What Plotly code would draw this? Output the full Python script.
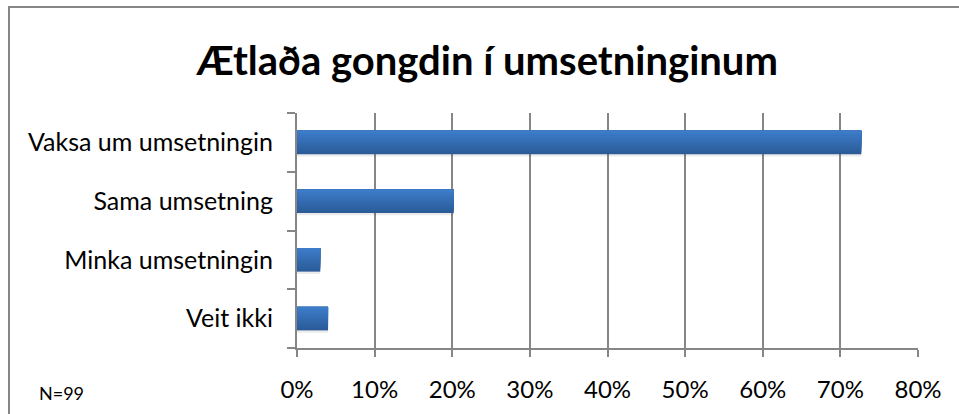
import plotly.graph_objects as go

categories = ["Vaksa um umsetningin", "Sama umsetning", "Minka umsetningin", "Veit ikki"]
shares = [0.727, 0.202, 0.030, 0.040]
x_ticks = [0, 0.1, 0.2, 0.3, 0.4, 0.5, 0.6, 0.7, 0.8]
title_text = "Ætlaða gongdin í umsetninginum"
note_text = "N=99"

grey = "#868686"
font_family = "Lato"

fig = go.Figure()

# soft shadow under each bar
fig.add_trace(go.Bar(y=categories, x=shares, orientation="h",
                     width=0.05, offset=-0.24,
                     marker=dict(color="rgba(0,0,0,0.08)", line=dict(width=0)),
                     hoverinfo="skip"))

# bar body: stacked overlays, each one covering from its start to the top,
# so the colour steps from dark (bottom) to light (top) without seams
top_rgb = (0x3d, 0x7c, 0xc9)
bot_rgb = (0x2b, 0x5c, 0x99)
n_strips = 10
bar_w = 0.4
step = bar_w / n_strips
for i in range(n_strips):
    t = i / (n_strips - 1)
    c = tuple(round(b + (a - b) * t) for a, b in zip(top_rgb, bot_rgb))
    fig.add_trace(go.Bar(
        y=categories, x=shares, orientation="h",
        width=bar_w - i * step, offset=-bar_w / 2 + i * step,
        marker=dict(color="rgb(%d,%d,%d)" % c, line=dict(width=0)),
    ))

fig.update_layout(
    width=959, height=414,
    margin=dict(l=297, r=41, t=113, b=66),
    paper_bgcolor="white", plot_bgcolor="white",
    font=dict(family=font_family, color="black"),
    showlegend=False,
    barmode="overlay",
    title=dict(text="<b>" + title_text + "</b>", x=0.508, xanchor="center",
               xref="container", yref="container", y=0.852, yanchor="middle",
               font=dict(size=40, family=font_family, color="black")),
)

fig.update_xaxes(
    range=[0, 0.8], tickvals=x_ticks, tickformat=".0%",
    showgrid=True, gridcolor=grey, gridwidth=1.5,
    showline=True, linecolor=grey, linewidth=2,
    ticks="outside", ticklen=7, tickcolor=grey, tickwidth=2,
    tickfont=dict(size=24, color="black"), ticklabelstandoff=12,
    zeroline=False,
)
fig.update_yaxes(
    categoryorder="array", categoryarray=categories[::-1],
    showline=True, linecolor=grey, linewidth=2,
    ticks="outside", tickson="boundaries", ticklen=8, tickcolor=grey, tickwidth=2,
    tickfont=dict(size=25, color="black"), ticklabelstandoff=17,
    showgrid=False,
)

fig.add_annotation(text=note_text, xref="paper", yref="paper",
                   x=(37 - 297) / 621, y=(348 - 393) / 235,
                   xanchor="left", yanchor="middle", showarrow=False,
                   font=dict(size=18, color="black", family=font_family))

# chart frame (left and top edges show in the picture)
fig.add_shape(type="rect", xref="paper", yref="paper",
              x0=(9 - 297) / 621, x1=(975 - 297) / 621,
              y0=(348 - 430) / 235, y1=(348 - 7) / 235,
              line=dict(color=grey, width=2), fillcolor="rgba(0,0,0,0)", layer="below")

fig.write_html("out.html", config={"displayModeBar": False},
               post_script="document.body.style.margin='0';")
